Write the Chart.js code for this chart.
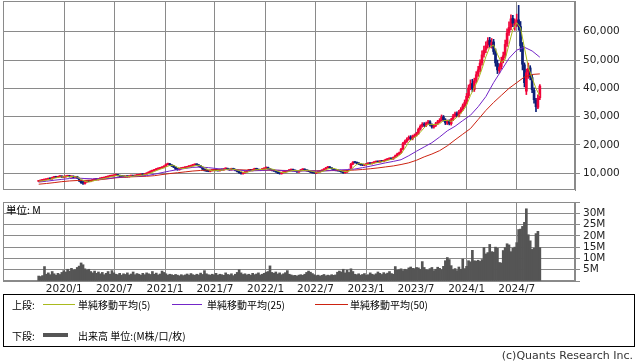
<!DOCTYPE html>
<html><head><meta charset="utf-8">
<script src="https://cdn.jsdelivr.net/npm/chart.js@4.4.1/dist/chart.umd.min.js"></script>
<style>
html,body{margin:0;padding:0;background:#fff}
body{width:638px;height:362px;position:relative;overflow:hidden;font-family:"DejaVu Sans",sans-serif}
canvas{position:absolute;left:0}
#c1{top:0}
#c2{top:195px}
#lg{position:absolute;left:3px;top:294px;width:632px;height:53px;border:1px solid #000;box-sizing:border-box}
.t{position:absolute;font-family:"Noto Sans CJK JP",sans-serif;font-size:10px;line-height:13px;color:#000;white-space:nowrap}
.ln{position:absolute;height:0}
#unit{position:absolute;left:6px;top:203px;font-family:"Noto Sans CJK JP",sans-serif;font-size:10.5px;line-height:13px;color:#000}
#copy{position:absolute;right:5px;top:350px;font-family:"DejaVu Sans",sans-serif;font-size:11px;line-height:12px;color:#333;white-space:nowrap}
</style>
</head><body>
<canvas id="c1" width="638" height="191"></canvas>
<canvas id="c2" width="638" height="106"></canvas>
<div id="unit">単位: M</div>
<div id="lg"></div>
<div class="t" style="left:12px;top:298px">上段:</div>
<div class="ln" style="left:43px;top:304px;width:32px;border-top:1px solid #a9ba1e"></div>
<div class="t" style="left:78px;top:298px">単純移動平均(5)</div>
<div class="ln" style="left:172px;top:304px;width:30px;border-top:1px solid #7326c8"></div>
<div class="t" style="left:207px;top:298px">単純移動平均(25)</div>
<div class="ln" style="left:315px;top:304px;width:33px;border-top:1px solid #cc2211"></div>
<div class="t" style="left:350px;top:298px">単純移動平均(50)</div>
<div class="t" style="left:12px;top:329px">下段:</div>
<div class="ln" style="left:43px;top:333px;width:25px;height:4px;background:#555"></div>
<div class="t" style="left:78px;top:329px">出来高 単位:(M株/口/枚)</div>
<div id="copy">(c)Quants Research Inc.</div>
<script>
// ---- data (weekly, first week starting 2019-09-30) ----
const startWeek = '2019-09-30';
const tickLabels = ['2020/1','2020/7','2021/1','2021/7','2022/1','2022/7','2023/1','2023/7','2024/1','2024/7'];
const tickDates = ['2020-01-01','2020-07-01','2021-01-01','2021-07-01','2022-01-01','2022-07-01','2023-01-01','2023-07-01','2024-01-01','2024-07-01'];
const priceTicks = [10000,20000,30000,40000,50000,60000];
const volumeTicks = [0,5,10,15,20,25,30,35];
const volumeLabels = ['','5M','10M','15M','20M','25M','30M',''];

const opens = [
7150,7300,7500,7650,7750,7900,8150,8050,8500,8750,8600,8850,8950,
8650,8750,8950,9150,8750,8950,8550,8800,8200,7200,6800,6400,7000,
7300,7150,7450,7750,7950,7750,8050,8250,8300,8550,8700,8950,9050,
9100,9350,9450,9150,9050,8850,8750,8950,8800,9050,9150,9000,9250,
9300,9450,9650,9500,9750,10050,10400,10750,10950,11250,11500,11750,11950,
12050,12500,13150,13350,12850,12650,12150,11550,11250,11650,11800,11950,12100,
12350,12400,12750,12950,13150,12950,12650,12050,11450,11050,10750,10650,10950,
11000,11150,10950,10900,11350,11200,11550,11700,11350,11250,11650,11350,11050,
10550,10250,9850,10150,10550,10950,11250,10950,11350,11650,11350,11050,11300,
11550,11750,12050,11550,11250,11050,10750,10450,10150,9850,10250,10450,10700,
10950,11150,11300,10950,10750,10450,10950,11250,11450,11050,10950,10650,10350,
10250,10050,10350,10550,10850,11150,11550,11950,12250,11850,11550,11150,11050,
10850,10750,10450,10150,10450,10950,11800,13250,13950,13800,13650,13250,12950,
12850,13050,13350,13550,13400,13750,13950,14150,14000,14350,14200,14550,14850,
15050,15250,15100,15650,16250,16850,17300,18600,20600,21300,22100,22800,22250,
23100,23500,24100,25600,26700,27400,26900,27700,28200,27100,26300,26900,27600,
28300,28800,29900,28800,27700,28400,27500,29000,30300,31100,30400,31700,32700,
33900,35200,37400,40300,41700,39600,42800,45000,46700,49100,52000,53700,55200,
57000,55300,56400,52800,48800,46300,47700,50000,51700,55700,59700,61700,64700,
62300,62900,64200,61800,54800,48300,39000,45700,47200,43800,39300,35800,33300,36700];
const highs = [
7450,7600,7750,7900,8050,8300,8300,8650,8900,8900,8950,9100,9100,
8900,9050,9300,9300,9050,9100,8950,8950,8350,7500,7300,7200,7400,
7500,7550,7850,8050,8100,8150,8350,8450,8650,8850,9050,9150,9250,
9500,9550,9550,9300,9200,9000,9050,9100,9150,9250,9300,9350,9450,
9550,9750,9800,9850,10200,10550,10900,11100,11400,11700,11900,12100,12250,
12750,13350,13600,13500,13050,12800,12300,11700,11800,12000,12100,12300,12500,
12600,12900,13100,13300,13300,13100,12800,12200,11600,11200,10900,11050,11150,
11300,11300,11100,11450,11500,11700,11900,11850,11500,11800,11800,11500,11200,
10700,10400,10250,10650,11050,11350,11400,11450,11800,11800,11500,11450,11650,
11900,12250,12200,11700,11400,11200,10900,10600,10300,10400,10550,10850,11050,
11250,11450,11450,11100,10900,11050,11350,11600,11600,11200,11100,10800,10500,
10400,10450,10650,10950,11250,11700,12100,12450,12400,12000,11700,11300,11200,
11000,10900,10600,10550,11050,11500,13500,14150,14100,13950,13800,13400,13100,
13200,13450,13700,13700,13850,14050,14300,14300,14450,14500,14650,15000,15200,
15450,15400,15800,16450,17100,17500,18800,20900,21700,22500,23200,23300,23500,
23900,24500,26000,27100,27900,27900,28100,28700,28600,27500,27300,28000,28700,
29300,30600,30400,29300,28800,28900,29400,30800,31600,31700,32200,33200,34500,
35900,38200,41200,43000,43200,43600,45900,47800,50100,53200,54900,56400,57900,
58000,57600,57300,53900,50000,48700,51000,52800,57000,61000,63500,66000,65800,
64500,66200,69300,63600,56200,49000,46800,48900,48000,44800,40200,36500,37700,41300];
const lows = [
7000,7150,7350,7500,7600,7750,7900,7900,8350,8450,8450,8700,8500,
8500,8600,8800,8650,8600,8400,8400,8100,7100,6450,6100,6150,6800,
7000,7000,7300,7600,7650,7600,7900,8100,8150,8400,8550,8800,8900,
8950,9200,9050,8850,8750,8650,8600,8650,8650,8900,8850,8850,9100,
9150,9300,9350,9350,9600,9900,10250,10600,10800,11100,11350,11600,11800,
11900,12350,12950,12700,12400,12000,11300,11050,11100,11500,11650,11800,11950,
12200,12250,12600,12800,12850,12450,11950,11300,10800,10650,10550,10500,10800,
10850,10850,10750,10750,11050,11050,11400,11250,11050,11100,11250,10850,10450,
10000,9700,9700,10000,10400,10800,10850,10800,11200,11250,10950,10900,11150,
11400,11600,11450,11150,10850,10650,10350,9900,9700,9700,10100,10300,10550,
10800,11000,10850,10650,10350,10300,10800,11100,10950,10750,10550,10250,10050,
9950,9900,10200,10400,10700,11000,11400,11800,11750,11450,11050,10850,10750,
10650,10350,10000,10000,10300,10800,11600,13050,13600,13400,13100,12800,12700,
12700,12900,13200,13250,13250,13600,13800,13850,13850,14050,14050,14400,14700,
14850,14900,14900,15450,16000,16600,17000,18300,20200,20900,21700,21900,21800,
22700,23100,23700,25200,26300,26500,26500,27300,26700,25900,25900,26500,27200,
27900,28400,28400,27200,27200,27100,27000,28600,29800,30000,29900,31200,32200,
33300,34500,36600,39500,38800,38900,42000,44200,45800,48200,51000,52600,54200,
54400,54200,52000,47800,45200,45400,46800,49000,50800,54800,58700,60600,61800,
60500,61800,60500,53000,46500,40500,37800,43500,43000,38500,34800,31800,32800,36000];
const closes = [
7300,7450,7600,7700,7900,8100,8050,8500,8700,8600,8800,8900,8700,
8700,8900,9100,8800,8900,8600,8800,8300,7300,6700,6500,6900,7200,
7200,7400,7700,7900,7800,8000,8200,8300,8500,8700,8900,9000,9100,
9300,9400,9200,9000,8900,8800,8900,8800,9000,9100,9000,9200,9300,
9400,9600,9500,9700,10000,10400,10700,10900,11200,11500,11700,11900,12000,
12500,13100,13300,12900,12600,12200,11500,11300,11600,11800,11900,12100,12300,
12400,12700,12900,13100,13000,12600,12100,11500,11000,10800,10700,10900,11000,
11100,11000,10900,11300,11200,11500,11700,11400,11200,11600,11400,11000,10600,
10200,9900,10100,10500,10900,11200,11000,11300,11600,11400,11100,11300,11500,
11700,12000,11600,11300,11000,10800,10500,10100,9900,10200,10400,10700,10900,
11100,11300,11000,10800,10500,10900,11200,11400,11100,10900,10700,10400,10200,
10100,10300,10500,10800,11100,11500,11900,12200,11900,11600,11200,11000,10900,
10800,10500,10200,10400,10900,11300,13200,13900,13800,13600,13300,13000,12900,
13000,13300,13500,13400,13700,13900,14100,14000,14300,14200,14500,14800,15000,
15200,15100,15600,16200,16800,17200,18500,20500,21200,22000,22700,22300,23000,
23400,24000,25500,26600,27300,27000,27600,28100,27200,26400,26800,27500,28200,
28700,29800,28900,27800,28300,27600,28900,30200,31000,30500,31600,32600,33800,
35000,37200,40100,41500,39800,42600,44800,46500,48900,51800,53500,55000,56800,
55500,56200,53000,49000,46500,47500,49800,51500,55500,59500,61500,64500,63000,
62800,64000,62000,55000,48500,42000,45500,47000,44000,39500,36000,33500,36500,40800];
// volume in millions of shares
const volumes = [
2.2,2.0,2.4,6.4,3.0,3.6,2.8,4.2,3.2,2.6,3.4,2.9,3.8,
4.6,4.0,5.2,4.4,5.6,4.8,5.0,6.0,6.6,8.0,7.2,5.4,4.8,
5.2,4.2,3.6,4.4,3.4,4.0,3.2,3.8,2.8,3.4,4.2,3.0,4.6,
3.6,3.0,2.8,3.4,2.6,3.2,2.9,3.6,2.7,3.1,4.0,2.8,3.3,
3.0,2.6,3.4,2.8,3.6,3.2,2.9,4.2,3.0,3.5,2.7,3.1,4.4,
3.8,3.2,2.6,3.0,2.8,2.5,2.9,2.6,2.3,2.8,2.4,2.7,3.1,
2.6,3.3,2.8,2.5,3.0,2.7,3.5,2.9,4.6,3.2,2.8,2.6,3.0,
2.7,3.4,2.6,3.0,2.8,2.5,3.6,2.9,2.7,3.2,2.4,3.0,3.8,
5.0,3.6,2.9,3.2,2.7,3.0,2.6,3.4,2.8,3.1,3.6,2.7,3.0,
3.4,3.9,4.2,6.7,3.8,3.4,4.0,3.1,3.6,2.8,3.2,3.7,4.6,
3.0,2.7,2.4,2.5,2.2,2.6,2.8,2.5,3.0,3.8,4.4,3.9,3.3,
2.8,2.4,2.6,2.2,2.5,2.9,2.3,2.6,2.4,2.8,2.5,2.7,3.9,
4.4,4.0,5.2,3.6,4.8,3.8,5.4,4.2,3.0,2.8,3.2,2.6,2.9,
3.3,2.5,2.8,3.6,3.0,2.7,3.2,4.0,3.4,2.9,3.7,3.1,3.5,
4.2,3.3,3.0,6.4,4.8,5.0,5.4,4.6,5.2,5.0,5.8,6.2,5.6,
5.5,6.0,5.8,5.2,8.6,6.0,5.0,4.8,5.5,6.0,4.6,5.2,6.1,
5.6,5.0,6.5,9.0,10.4,9.5,6.8,5.0,5.5,4.6,6.2,5.2,9.7,
5.5,6.5,9.0,8.5,13.6,9.0,8.8,9.2,8.7,9.5,14.8,12.0,12.6,
16.2,13.0,12.8,15.0,14.5,8.2,8.0,13.5,14.8,16.5,16.0,13.0,14.5,
15.0,17.0,22.8,23.0,24.2,26.0,32.0,20.5,17.8,14.0,14.5,21.0,22.0,14.8];
// moving averages (ma5: every 2nd week, ma25/ma50: every 4th week)
const ma5Step = 2, maLongStep = 4;
const ma5 = [
7200,7350,7590,7870,8250,8530,8740,8800,8840,8860,
8680,7940,7140,6900,7280,7600,7920,8160,8520,8840,
9140,9200,9060,8880,8920,9020,9200,9400,9640,10060,
10640,11200,11660,12240,12760,12820,12100,11680,11740,12100,
12480,12820,12740,12040,11220,10880,10940,11060,11180,11420,
11480,11320,10960,10360,10320,10740,11200,11280,11380,11520,
11620,11340,10740,10300,10260,10660,11000,10940,10880,11020,
11060,10660,10340,10380,10840,11500,11820,11580,11100,10680,
10560,11200,12620,13560,13320,13100,13220,13560,13820,14100,
14360,14740,15140,15780,16860,18840,20980,22240,23080,24500,
26080,27320,27260,27200,27520,28620,28700,28300,29200,30440,
31900,34040,37520,40240,43040,46920,51140,54520,55300,52040,
49160,50160,55560,60800,63160,61360,54300,47600,43600,40000,
37260];
const ma25 = [
6900,7200,7550,7850,8150,8300,8150,8050,8000,8150,
8500,8750,8900,9000,9200,9650,10250,10800,11300,11700,
12100,12200,12000,11700,11400,11200,11100,10900,10900,11000,
11200,11100,10900,10700,10800,10900,10800,10800,11000,11200,
11300,11500,12000,12500,13100,13700,14200,14800,16200,17800,
19300,20800,22800,25000,26600,28600,30500,33500,37100,42000,
46300,50600,53500,54500,53200,51000];
const ma50 = [
6150,6400,6700,7050,7300,7450,7500,7600,7750,8050,
8400,8600,8750,8850,8950,9150,9550,9900,10200,10500,
10800,11000,11150,11250,11300,11300,11250,11150,11100,11050,
11100,11050,11000,10950,10950,10900,10900,10950,10950,11000,
11050,11150,11350,11600,11900,12250,12600,13100,13700,14600,
15800,16800,18000,19700,21800,23800,25800,29000,32200,35000,
37500,40000,42000,44000,44900,45100];

// ---- helpers ----
const WEEK_MS = 7*24*3600*1000;
const weekOf = d => (Date.parse(d) - Date.parse(startWeek)) / WEEK_MS;
const tickWeeks = tickDates.map(weekOf);
const X_MIN = -18.52, X_MAX = 278.24;
const UP = '#f0043a', DOWN = '#0b1f78', GRID = '#8a8a8a';
const candleColor = i => closes[i] >= opens[i] ? UP : DOWN;
const fmt = v => v.toLocaleString('en-US');

const frame = {id:'frame', beforeDatasetsDraw(c){
  const a=c.chartArea, ctx=c.ctx; ctx.save(); ctx.strokeStyle=GRID; ctx.lineWidth=1;
  ctx.strokeRect(Math.round(a.left)+0.5, Math.round(a.top)+0.5, Math.round(a.right-a.left)-1, Math.round(a.bottom-a.top)-1);
  ctx.restore();
}};
const tickFont = {family:'DejaVu Sans', size:10.5};

const xScale = (showLabels) => ({
  type:'linear', min:X_MIN, max:X_MAX, offset:false,
  afterBuildTicks: s => { s.ticks = tickWeeks.map(v => ({value:v})); },
  grid:{color:GRID, drawTicks:false, lineWidth:1, offset:false},
  border:{display:false},
  ticks:{display:showLabels, autoSkip:false, maxRotation:0, padding:2, color:'#222', font:tickFont,
    callback:(v, i) => tickLabels[i]},
  afterFit: s => { s.paddingLeft=0; s.paddingRight=0; s.height = showLabels ? 20 : 0; }
});

Chart.defaults.font.family = 'DejaVu Sans';

new Chart(document.getElementById('c1'), {
  type:'bar',
  data:{datasets:[
    {type:'line', label:'MA5', data: ma5.map((v,k)=>({x:k*ma5Step, y:v})), borderColor:'#a9ba1e', borderWidth:1, pointRadius:0, order:1},
    {type:'line', label:'MA25', data: ma25.map((v,k)=>({x:k*maLongStep, y:v})), borderColor:'#7326c8', borderWidth:1, pointRadius:0, order:1},
    {type:'line', label:'MA50', data: ma50.map((v,k)=>({x:k*maLongStep, y:v})), borderColor:'#cc2211', borderWidth:1, pointRadius:0, order:1},
    {label:'wick', data: highs.map((h,i)=>({x:i, y:[lows[i], h]})), backgroundColor: c => candleColor(c.dataIndex), barThickness:1, grouped:false, order:3},
    {label:'body', data: opens.map((o,i)=>({x:i, y:[o, closes[i]]})), backgroundColor: c => candleColor(c.dataIndex), barThickness:2, minBarLength:1, grouped:false, order:2}
  ]},
  options:{
    responsive:false, animation:false, devicePixelRatio:1,
    layout:{padding:{left:3, top:1, right:0, bottom:1}},
    plugins:{legend:{display:false}, tooltip:{enabled:false}},
    scales:{
      x: xScale(false),
      y:{position:'right', min:4100, max:70840,
        afterBuildTicks: s => { s.ticks = priceTicks.map(v=>({value:v})); },
        grid:{color:GRID, tickLength:5}, border:{color:GRID},
        ticks:{padding:3, autoSkip:false, color:'#222', font:tickFont, callback: v => fmt(v)},
        afterFit: s => { s.width = 63; s.paddingTop=0; s.paddingBottom=0; }}
    }
  },
  plugins:[frame]
});

new Chart(document.getElementById('c2'), {
  type:'bar',
  data:{datasets:[
    {label:'出来高', data: volumes.map((v,i)=>({x:i, y:v})), backgroundColor:'#555555', barThickness:2}
  ]},
  options:{
    responsive:false, animation:false, devicePixelRatio:1,
    layout:{padding:{left:3, top:7, right:0, bottom:0}},
    plugins:{legend:{display:false}, tooltip:{enabled:false}},
    scales:{
      x: xScale(true),
      y:{position:'right', min:0, max:35,
        afterBuildTicks: s => { s.ticks = volumeTicks.map(v=>({value:v})); },
        grid:{color:GRID, tickLength:5}, border:{color:GRID},
        ticks:{padding:3, autoSkip:false, color:'#222', font:tickFont, callback:(v,i) => volumeLabels[i]},
        afterFit: s => { s.width = 63; s.paddingTop=0; s.paddingBottom=0; }}
    }
  },
  plugins:[frame]
});
</script>
</body></html>
